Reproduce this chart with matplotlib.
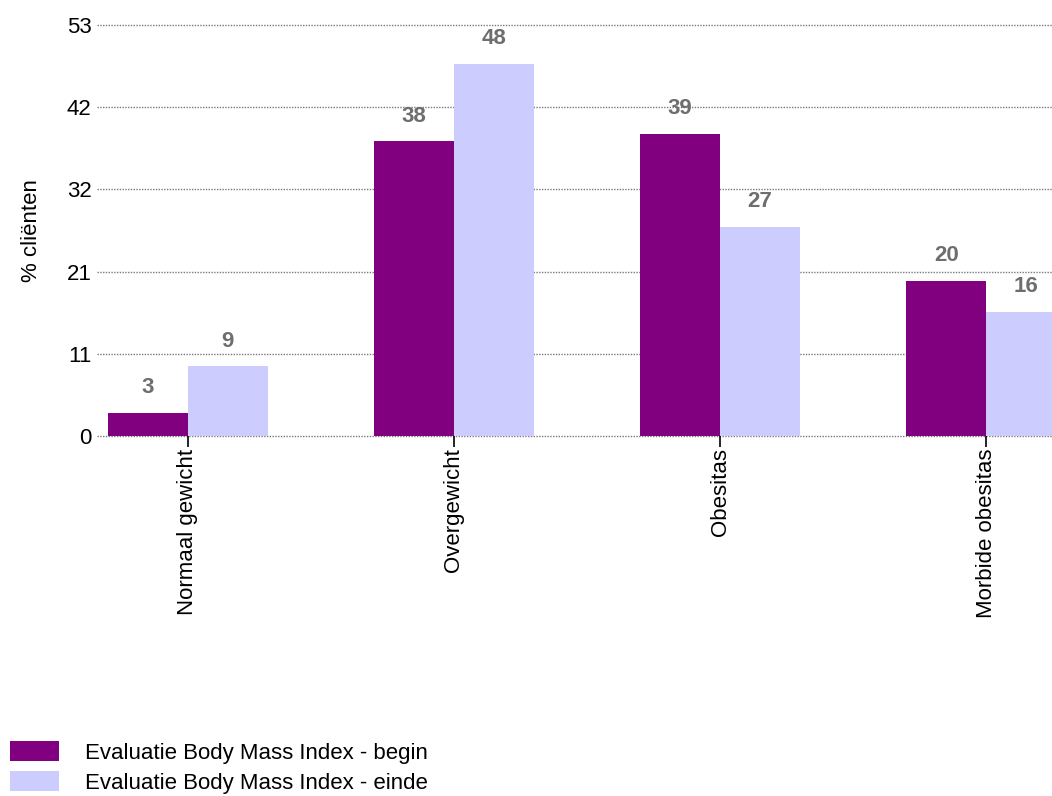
import numpy as np
import matplotlib
matplotlib.use("Agg")
import matplotlib.pyplot as plt

plt.rcParams['font.family'] = ['Liberation Sans', 'DejaVu Sans']

# BMI evaluation, share of clients per category
categories = ['Normaal gewicht', 'Overgewicht', 'Obesitas', 'Morbide obesitas']
begin = [3, 38, 39, 20]
einde = [9, 48, 27, 16]
series_names = ['Evaluatie Body Mass Index - begin', 'Evaluatie Body Mass Index - einde']
y_max = 53

col_begin = '#800080'
col_einde = '#ccccff'
fs = 16

fig = plt.figure(figsize=(10.52, 7.96), dpi=100)
ax = fig.add_axes([97 / 1052, 1 - 436 / 796, 955 / 1052, 411 / 796])

x = np.arange(len(categories))
w = 0.30
b1 = ax.bar(x - w / 2, begin, w, color=col_begin, label=series_names[0], zorder=3)
b2 = ax.bar(x + w / 2, einde, w, color=col_einde, label=series_names[1], zorder=3)

# value labels above each bar
for bars, vals in ((b1, begin), (b2, einde)):
    for rect, v in zip(bars, vals):
        ax.annotate(str(v), (rect.get_x() + rect.get_width() / 2, v),
                    xytext=(0, 18), textcoords='offset points',
                    ha='center', va='center', fontsize=fs, fontweight='bold',
                    color='#6e6e6e', clip_on=False, zorder=4)

ax.set_xlim(-0.342, 3.248)
ax.set_ylim(0, y_max)

yt = np.linspace(0, y_max, 6)
ax.set_yticks(yt)
ax.set_yticklabels(['%d' % round(t) for t in yt], fontsize=fs)
ax.tick_params(axis='y', length=0, pad=4)
for t in yt:
    ax.axhline(t, color='#7a7a7a', linestyle=(0, (1, 1)), linewidth=1.0,
               zorder=1, clip_on=False)

ax.set_xticks(x)
ax.set_xticklabels(categories, rotation=90, fontsize=fs, va='top', ha='center')
ax.tick_params(axis='x', length=8, width=1.2, color='black', pad=1)

for s in ax.spines.values():
    s.set_visible(False)

ax.set_ylabel('% cliënten', fontsize=fs)
ax.yaxis.set_label_coords(-0.058, 0.5)

fig.legend(handles=[b1, b2], labels=series_names, loc='lower left',
           bbox_to_anchor=(-0.003, -0.014), frameon=False, fontsize=fs,
           handlelength=2.2, handleheight=1.0, handletextpad=1.15,
           labelspacing=0.33, borderaxespad=0.2)

fig.savefig('out.png', dpi=100)
